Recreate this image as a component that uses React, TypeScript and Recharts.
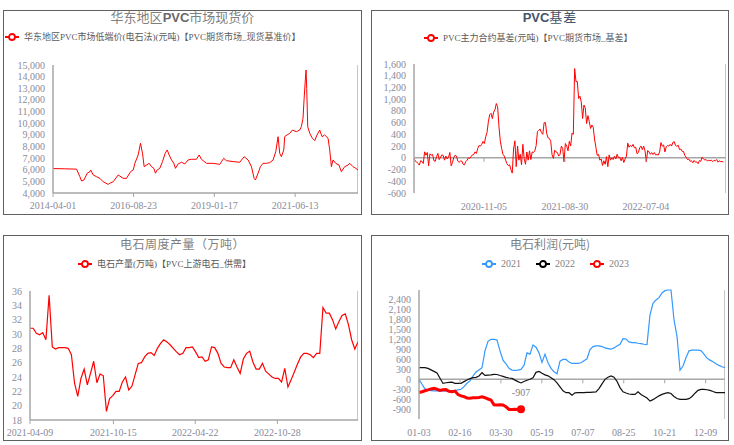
import React from 'react';
import { LineChart, Line, XAxis, YAxis, ReferenceLine, LabelList } from 'recharts';

// ---- 华东地区PVC市场现货价 ----
const spotDates = [
  '2014-04-01', '2014-08-01', '2014-12-13', '2015-01-18', '2015-02-05', '2015-03-02', '2015-04-08', '2015-05-06',
  '2015-05-14', '2015-06-12', '2015-07-18', '2015-08-23', '2015-09-28', '2015-11-21', '2015-12-09', '2016-01-15',
  '2016-03-09', '2016-05-02', '2016-06-07', '2016-07-21', '2016-08-19', '2016-09-06', '2016-10-12', '2016-11-06',
  '2016-11-28', '2016-12-16', '2017-01-10', '2017-02-08', '2017-03-06', '2017-03-31', '2017-04-18', '2017-05-06',
  '2017-06-04', '2017-07-03', '2017-08-01', '2017-08-23', '2017-09-13', '2017-10-09', '2017-11-03', '2017-11-21',
  '2017-12-20', '2018-01-25', '2018-03-02', '2018-04-07', '2018-05-14', '2018-07-07', '2018-08-05', '2018-08-30',
  '2018-10-23', '2019-01-04', '2019-03-17', '2019-04-29', '2019-05-28', '2019-08-09', '2019-10-20', '2019-12-06',
  '2020-01-19', '2020-02-24', '2020-03-24', '2020-04-07', '2020-05-06', '2020-05-31', '2020-06-29', '2020-08-04',
  '2020-09-10', '2020-10-16', '2020-11-14', '2020-12-09', '2020-12-27', '2021-01-14', '2021-02-09', '2021-02-19',
  '2021-03-17', '2021-04-15', '2021-05-14', '2021-06-26', '2021-08-01', '2021-08-19', '2021-09-06', '2021-09-17',
  '2021-10-01', '2021-10-09', '2021-10-16', '2021-10-27', '2021-11-18', '2021-12-17', '2022-01-11', '2022-02-05',
  '2022-03-06', '2022-04-01', '2022-04-29', '2022-06-05', '2022-06-23', '2022-07-11', '2022-07-29', '2022-08-27',
  '2022-10-02', '2022-10-27', '2022-12-02', '2023-01-08', '2023-01-26', '2023-03-03', '2023-04-01', '2023-04-26',
];
const spotPrices = [
  6100, 6080, 6050, 5400, 5030, 5100, 5700, 5830,
  5980, 5550, 5400, 5260, 4970, 4740, 4830, 4970,
  5550, 5260, 5260, 5830, 5980, 6550, 7270, 8270,
  7410, 6260, 6400, 6550, 6260, 6120, 5700, 5980,
  6120, 6700, 7410, 7700, 7270, 6840, 6550, 6120,
  6500, 6640, 6500, 6840, 6900, 6900, 7270, 6900,
  6550, 6550, 6460, 6980, 6780, 6700, 6640, 7120,
  6840, 6260, 5260, 5120, 5700, 6260, 6550, 6550,
  6610, 6840, 7550, 8840, 7410, 7120, 7700, 8840,
  8990, 9130, 9410, 9270, 9410, 9700, 10420, 12000,
  13710, 14570, 13000, 9700, 9130, 8700, 8500, 8990,
  9410, 8840, 8990, 8700, 7700, 6260, 6840, 6550,
  6400, 5830, 6260, 6400, 6550, 6260, 6120, 5980,
];
const spotTickDates = ['2014-04-01', '2016-08-23', '2019-01-17', '2021-06-13'];
const spotYTicks = [4000, 5000, 6000, 7000, 8000, 9000, 10000, 11000, 12000, 13000, 14000, 15000];

// ---- PVC基差 ----
const basisValues = [
  -10, -57, -70, -95, -125, -50, -60, -97, 102, 45,
  91, -136, 68, 45, 57, -50, -60, 20, 74, -30,
  10, 50, 40, -40, 30, -20, 10, 91, -136, -80,
  10, 45, 30, -57, -75, -55, -55, -110, -120, -65,
  -40, 0, -10, 20, 50, 57, 102, 74, 159, 210,
  200, 230, 280, 244, 358, 432, 613, 735, 760, 670,
  780, 820, 926, 870, 528, 290, 160, 60, 30, -40,
  -100, -130, -120, -200, -260, 150, 290, -150, 200, -40,
  60, -120, 230, -20, -110, 100, -40, 120, -30, 100,
  90, 120, 210, 450, 470, 490, 430, 400, 600, 600,
  410, 340, 330, 280, 50, -10, 130, 100, 90, 30,
  60, 200, 160, -68, 244,
  200, 120, 280, 200, 420, 400, 1522, 1300, 1300, 1011,
  1050, 950, 670, 900, 850, 585, 720, 620, 500, 560,
  520, 320, 180, 40, 60, -40, -20, -130, -50, -110,
  20, -150, 50, -40, 0, -30, 30, -20, 60, 0,
  10, -50, 10, -80, -20, 30, 250, 180, 210, 190,
  230, 170, 180, 70, 90, 170, 200, 140, 200, 120,
  -68, 125, 100, 60, 90, 55, 90, 50, 55, 48,
  100, 260, 200, 220, 100, 190, 210, 200, 230, 200,
  265, 275, 210, 195, 215, 140, 150, 110, 110, 40,
  10, -30, -20, -60, -50, -85, -45, -75, -70, -100,
  -45, -60, 10, -20, -35, -30, -55, -42, -50, -40,
  -65, -42, -52, -30, -75, -50, -65, -60, -75,
];
const basisTickPos = [52.7, 113.7, 174.7];
const basisTickLabels = ['2020-11-05', '2021-08-30', '2022-07-04'];
const basisYTicks = [-600, -400, -200, 0, 200, 400, 600, 800, 1000, 1200, 1400, 1600];

// ---- 电石周度产量 ----
const carbideOutput = [
  30.8, 30.8, 30.1, 29.9, 30.2, 29.2, 35.4, 28.2, 27.9, 28.1,
  28.1, 28.1, 28.0, 27.1, 23.1, 21.3, 23.8, 25.1, 22.9, 24.5,
  26.2, 23.2, 24.4, 24.2, 19.2, 21.0, 21.4, 22.0, 22.0, 23.3,
  24.0, 22.2, 22.7, 24.3, 25.9, 26.0, 26.8, 27.3, 27.4, 27.0,
  28.0, 28.7, 29.2, 28.9, 28.5, 28.0, 27.5, 27.1, 27.3, 28.1,
  28.1,
  28.2, 27.5, 26.7, 26.8, 26.2, 26.4, 28.2, 28.1, 27.3, 25.9,
  25.4, 25.3, 25.3, 26.4, 25.4, 24.5, 26.5, 27.3, 27.6, 26.1,
  25.1, 25.1, 25.9, 24.8, 24.4, 24.0, 23.8, 23.8, 23.3, 25.2,
  22.6, 23.6, 24.7, 25.8, 26.8, 27.3, 27.3, 27.1, 26.7, 27.3,
  27.3, 33.7, 32.9, 32.9, 32.0, 30.7, 31.7, 32.6, 32.8, 31.3,
  29.2, 27.9, 28.9,
];
const outputTickPos = [0, 26.2, 51.9, 77.7];
const outputTickLabels = ['2021-04-09', '2021-10-15', '2022-04-22', '2022-10-28'];
const outputYTicks = [18, 20, 22, 24, 26, 28, 30, 32, 34, 36];

// ---- 电石利润(元吨) ----
const profitTickLabels = ['01-03', '02-16', '03-30', '05-19', '07-07', '08-25', '10-21', '12-09'];
const profitTickPos = [0, 13.65, 27.3, 40.95, 54.6, 68.25, 81.9, 95.55];
const profit2021 = [
  0, -150, -290, -330, -340, -350, -350, -345, -350, -355,
  -350, -345, -340, -320, -300, -220, -120, -50, 100, 220,
  280, 350, 860, 1150, 1210, 1210, 1185, 860, 580, 470,
  330, 280, 270, 280, 300, 420, 800, 760, 1040, 970,
  800, 510, 760, 500, 330, 230, 170, 550, 600, 600,
  520, 480, 480, 480, 500, 560, 620, 900, 990, 1010,
  1010, 990, 950, 930, 910, 950, 1010, 1060, 1230, 1220,
  1130, 1110, 1110, 1090, 1080, 1060, 1050, 1950, 2300, 2400,
  2470, 2610, 2680, 2700, 2700, 1800, 1300, 280, 400, 650,
  860, 880, 880, 880, 870, 760, 640, 580, 530, 470,
  420, 380, 355,
];
const profit2022 = [
  355, 355, 355, 330, 285, 240, 190, 30, -125, -105,
  -90, -85, -120, -120, -120, -70, -20, 20, 50, 60,
  100, 200, 120, 128, 135, 150, 145, 115, 90, 58,
  40, 28, -25, -70, -110, -65, -30, 0, 45, 210,
  240, 185, 135, 105, 50, -10, -110, -230, -350, -405,
  -405, -480, -410, -405, -400, -400, -395, -395, -385, -380,
  -280, -140, 0, 65, 100, 65, -60, -250, -380, -415,
  -445, -456, -456, -380, -460, -515, -565, -658, -615, -555,
  -500, -455, -425, -405, -430, -520, -580, -608, -608, -605,
  -585, -520, -420, -335, -304, -304, -315, -334, -370, -400,
  -405, -405, -405,
];
const profit2023 = [
  -400, -375, -345, -320, -290, -275, -300, -334, -315, -310,
  -360, -375, -355, -460, -500, -525, -565, -570, -557, -557,
  -550, -530, -557, -595, -625, -770, -780, -770, -775, -830,
  -910, -910, -905, -910, -907,
];
const profitYTicks = [-900, -600, -300, 0, 300, 600, 900, 1200, 1500, 1800, 2100, 2400];

// ---- styles ----
const axisGray = '#a6a6a6';
const tickColor = '#8a8a9a';
const serif = '"Liberation Serif", "DejaVu Serif", "Noto Sans CJK SC", serif';
const cjk = '"Noto Sans CJK SC", "Liberation Sans", sans-serif';
const fmt = (v: number) => v.toLocaleString('en-US');

const spotData = spotDates.map((d, i) => ({ t: Date.parse(d), v: spotPrices[i] }));
const spotTicks = spotTickDates.map((d) => Date.parse(d));
const basisData = basisValues.map((v, i) => ({ i, v }));
const outputData = carbideOutput.map((v, i) => ({ i, v }));
const profitData = profit2021.map((v, i) => ({
  i,
  y2021: v,
  y2022: profit2022[i],
  y2023: i < profit2023.length ? profit2023[i] : null,
}));
const last2023 = profit2023.length - 1;

function LegendIcon({ color }: { color: string }) {
  return (
    <svg width={16} height={10} style={{ verticalAlign: 'middle', marginRight: 4, marginTop: -2 }}>
      <line x1={1} y1={5} x2={15} y2={5} stroke={color} strokeWidth={2} />
      <circle cx={8} cy={5} r={3} fill="#fff" stroke={color} strokeWidth={1.8} />
    </svg>
  );
}

function ZeroAxisTick(props: any) {
  const { x, y, payload, labels, positions, zeroY } = props;
  const idx = positions.indexOf(payload.value);
  return (
    <g>
      <line x1={x} x2={x} y1={zeroY} y2={zeroY + 4} stroke={axisGray} strokeWidth={1} />
      <text x={x} y={y} dy="0.71em" textAnchor="middle" fontSize={10} fill={tickColor} fontFamily={serif}>
        {labels[idx] ?? ''}
      </text>
    </g>
  );
}

const frame = (left: number, top: number, width: number, height: number): React.CSSProperties => ({
  position: 'absolute', left, top, width, height, border: '1px solid #606060', boxSizing: 'border-box',
});
const titleStyle = (left: number, width: number, top: number, color: string): React.CSSProperties => ({
  position: 'absolute', left, width, top, textAlign: 'center', fontSize: 13, lineHeight: '16px',
  color, fontFamily: cjk, whiteSpace: 'nowrap',
});
const legendStyle = (left: number, top: number): React.CSSProperties => ({
  position: 'absolute', left, top, fontSize: 9, lineHeight: '12px', color: '#595959',
  fontFamily: serif, whiteSpace: 'nowrap',
});
const yTick = { fontSize: 10, fill: tickColor, fontFamily: serif };

export default function App() {
  const spotMax = spotData[spotData.length - 1].t;
  return (
    <div style={{ position: 'absolute', left: 0, top: 0, width: 734, height: 445, background: '#fff' }}>
      {/* panel frames */}
      <div style={frame(3, 10, 359, 205)} />
      <div style={frame(371, 10, 358, 205)} />
      <div style={frame(3, 235, 359, 206)} />
      <div style={frame(371, 235, 358, 206)} />

      {/* titles */}
      <div style={titleStyle(3, 359, 9, '#7f7f7f')}>
        华东地区<b style={{ fontFamily: '"Liberation Sans", sans-serif', color: '#6a6a6a' }}>PVC</b>市场现货价
      </div>
      <div style={titleStyle(371, 358, 9, '#44546a')}>
        <b style={{ fontFamily: '"Liberation Sans", sans-serif' }}>PVC</b>
        <span style={{ letterSpacing: 1 }}>基差</span>
      </div>
      <div style={titleStyle(3, 359, 236, '#7f7f7f')}>
        <span style={{ fontSize: 12, letterSpacing: 0.5 }}>电石周度产量（万吨）</span>
      </div>
      <div style={titleStyle(371, 358, 236, '#7f7f7f')}>
        <span style={{ fontSize: 12 }}>电石利润(元吨)</span>
      </div>

      {/* legends */}
      <div style={legendStyle(4, 31)}>
        <LegendIcon color="#ff0000" />华东地区PVC市场低端价(电石法)(元吨)【PVC期货市场_现货基准价】
      </div>
      <div style={legendStyle(423, 32)}>
        <LegendIcon color="#ff0000" />PVC主力合约基差(元吨)【PVC期货市场_基差】
      </div>
      <div style={legendStyle(77, 258)}>
        <LegendIcon color="#ff0000" />电石产量(万吨)【PVC上游电石_供需】
      </div>
      <div style={{ ...legendStyle(481, 258), fontSize: 10, color: '#7f7f7f' }}>
        <LegendIcon color="#3399ff" />
        <span style={{ marginRight: 14 }}>2021</span>
        <LegendIcon color="#000000" />
        <span style={{ marginRight: 14 }}>2022</span>
        <LegendIcon color="#ff0000" />
        <span>2023</span>
      </div>

      {/* panel 1 */}
      <div style={{ position: 'absolute', left: 3, top: 57 }}>
        <LineChart width={355} height={156} data={spotData} margin={{ top: 8, right: 0, bottom: 0, left: 0 }}>
          <XAxis
            type="number"
            dataKey="t"
            domain={[spotData[0].t, spotMax]}
            ticks={spotTicks}
            interval={0}
            tickFormatter={(t: number) => spotTickDates[spotTicks.indexOf(t)] ?? ''}
            height={20}
            tickSize={4}
            tickMargin={5}
            stroke={axisGray}
            axisLine={{ stroke: axisGray, strokeWidth: 1.5 }}
            tickLine={{ stroke: axisGray }}
            tick={{ fontSize: 10, fill: tickColor, fontFamily: serif }}
          />
          <YAxis
            domain={[4000, 15000]}
            ticks={spotYTicks}
            interval={0}
            width={50}
            tickFormatter={fmt}
            tickLine={false}
            tickSize={0}
            tickMargin={8}
            axisLine={{ stroke: axisGray, strokeWidth: 1.5 }}
            tick={yTick}
          />
          <ReferenceLine x={spotMax} stroke="#b5b5b5" strokeWidth={1.5} ifOverflow="visible" />
          <Line type="linear" dataKey="v" stroke="#ff0000" strokeWidth={1} dot={false} isAnimationActive={false} />
        </LineChart>
      </div>

      {/* panel 2 */}
      <div style={{ position: 'absolute', left: 371, top: 56 }}>
        <LineChart width={355} height={159} data={basisData} margin={{ top: 8, right: 0, bottom: 0, left: 0 }}>
          <XAxis
            type="number"
            dataKey="i"
            domain={[0, 235]}
            ticks={basisTickPos}
            interval={0}
            height={22}
            tickSize={5}
            tickMargin={5}
            axisLine={false}
            tickLine={false}
            tick={<ZeroAxisTick labels={basisTickLabels} positions={basisTickPos} zeroY={8 + (1600 / 2200) * 129} />}
          />
          <YAxis
            domain={[-600, 1600]}
            ticks={basisYTicks}
            interval={0}
            width={43}
            tickFormatter={fmt}
            tickLine={false}
            tickSize={0}
            tickMargin={8}
            axisLine={{ stroke: axisGray, strokeWidth: 1.5 }}
            tick={yTick}
          />
          <ReferenceLine y={0} stroke={axisGray} strokeWidth={1.5} />
          <ReferenceLine x={235} stroke="#b5b5b5" strokeWidth={1.5} ifOverflow="visible" />
          <Line type="linear" dataKey="v" stroke="#ff0000" strokeWidth={1} dot={false} isAnimationActive={false} />
        </LineChart>
      </div>

      {/* panel 3 */}
      <div style={{ position: 'absolute', left: 3, top: 283 }}>
        <LineChart width={355} height={157} data={outputData} margin={{ top: 8, right: 0, bottom: 0, left: 0 }}>
          <XAxis
            type="number"
            dataKey="i"
            domain={[0, carbideOutput.length - 1]}
            ticks={outputTickPos}
            interval={0}
            tickFormatter={(v: number) => outputTickLabels[outputTickPos.indexOf(v)] ?? ''}
            height={20}
            tickSize={4}
            tickMargin={5}
            axisLine={{ stroke: axisGray, strokeWidth: 1.5 }}
            tickLine={{ stroke: axisGray }}
            tick={{ fontSize: 10, fill: tickColor, fontFamily: serif }}
          />
          <YAxis
            domain={[18, 36]}
            ticks={outputYTicks}
            interval={0}
            width={27}
            tickLine={false}
            tickSize={0}
            tickMargin={8}
            axisLine={{ stroke: axisGray, strokeWidth: 1.5 }}
            tick={yTick}
          />
          <ReferenceLine x={carbideOutput.length - 1} stroke="#b5b5b5" strokeWidth={1.5} ifOverflow="visible" />
          <Line type="linear" dataKey="v" stroke="#ff0000" strokeWidth={1.2} dot={false} isAnimationActive={false} />
        </LineChart>
      </div>

      {/* panel 4 */}
      <div style={{ position: 'absolute', left: 371, top: 282 }}>
        <LineChart width={354} height={159} data={profitData} margin={{ top: 8, right: 0, bottom: 0, left: 0 }}>
          <XAxis
            type="number"
            dataKey="i"
            domain={[0, profit2021.length - 1]}
            ticks={profitTickPos}
            interval={0}
            height={22}
            tickSize={5}
            tickMargin={5}
            axisLine={false}
            tickLine={false}
            tick={<ZeroAxisTick labels={profitTickLabels} positions={profitTickPos} zeroY={8 + (2700 / 3900) * 129} />}
          />
          <YAxis
            domain={[-1200, 2700]}
            ticks={profitYTicks}
            interval={0}
            width={48}
            tickFormatter={fmt}
            tickLine={false}
            tickSize={0}
            tickMargin={8}
            axisLine={{ stroke: axisGray, strokeWidth: 1.5 }}
            tick={yTick}
          />
          <ReferenceLine y={0} stroke={axisGray} strokeWidth={1.5} />
          <ReferenceLine x={profit2021.length - 1} stroke="#b5b5b5" strokeWidth={1.5} ifOverflow="visible" />
          <Line type="linear" dataKey="y2021" stroke="#3399ff" strokeWidth={1.2} dot={false} isAnimationActive={false} />
          <Line type="linear" dataKey="y2022" stroke="#111111" strokeWidth={1.2} dot={false} isAnimationActive={false} />
          <Line
            type="linear"
            dataKey="y2023"
            stroke="#ff0000"
            strokeWidth={3}
            isAnimationActive={false}
            dot={(p: any) =>
              p.index === last2023 ? (
                <circle key="end" cx={p.cx} cy={p.cy} r={4} fill="#ff0000" />
              ) : (
                <g key={`d${p.index}`} />
              )
            }
          >
            <LabelList
              dataKey="y2023"
              content={(p: any) =>
                p.index === last2023 ? (
                  <text x={p.x} y={p.y - 13} textAnchor="middle" fontSize={10} fill="#7f7f7f" fontFamily={serif}>
                    {p.value}
                  </text>
                ) : null
              }
            />
          </Line>
        </LineChart>
      </div>
    </div>
  );
}
